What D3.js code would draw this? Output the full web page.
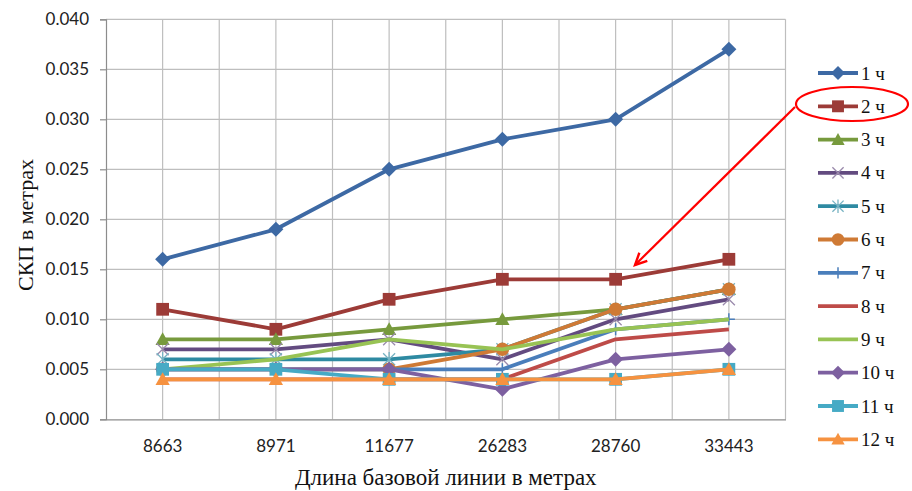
<!DOCTYPE html>
<html>
<head>
<meta charset="utf-8">
<script src="https://cdn.jsdelivr.net/npm/d3@7/dist/d3.min.js"></script>
<style>
  html, body { margin: 0; padding: 0; background: #fff; }
  svg { display: block; }
</style>
</head>
<body>
<svg id="chart" width="912" height="491"></svg>
<script>
// Baseline lengths (categories on the x axis)
const baselines = ["8663", "8971", "11677", "26283", "28760", "33443"];

// RMS error (СКП) for each observation duration, metres
const s1  = [0.016, 0.019, 0.025, 0.028, 0.030, 0.037];
const s2  = [0.011, 0.009, 0.012, 0.014, 0.014, 0.016];
const s3  = [0.008, 0.008, 0.009, 0.010, 0.011, 0.013];
const s4  = [0.007, 0.007, 0.008, 0.006, 0.010, 0.012];
const s5  = [0.006, 0.006, 0.006, 0.007, 0.011, 0.013];
const s6  = [0.005, 0.005, 0.005, 0.007, 0.011, 0.013];
const s7  = [0.005, 0.005, 0.005, 0.005, 0.009, 0.010];
const s8  = [0.004, 0.004, 0.004, 0.004, 0.008, 0.009];
const s9  = [0.005, 0.006, 0.008, 0.007, 0.009, 0.010];
const s10 = [0.005, 0.005, 0.005, 0.003, 0.006, 0.007];
const s11 = [0.005, 0.005, 0.004, 0.004, 0.004, 0.005];
const s12 = [0.004, 0.004, 0.004, 0.004, 0.004, 0.005];

const seriesNames = ["1 ч", "2 ч", "3 ч", "4 ч", "5 ч", "6 ч", "7 ч", "8 ч", "9 ч", "10 ч", "11 ч", "12 ч"];
const seriesValues = [s1, s2, s3, s4, s5, s6, s7, s8, s9, s10, s11, s12];
const seriesColors = ["#3D69A4", "#9C3B37", "#779A3D", "#634B80", "#2E8AA2", "#CF7A35",
                      "#4A7EBB", "#BE4B48", "#98C354", "#7D60A0", "#46AAC5", "#F69240"];
const seriesMarkers = ["diamond", "square", "triangle", "cross", "asterisk", "circle",
                       "plus", "none", "none", "diamond", "square", "triangle"];

const yTicks = [0, 0.005, 0.010, 0.015, 0.020, 0.025, 0.030, 0.035, 0.040];

const plot = { left: 106, right: 785.5, top: 19.3, bottom: 419.3 };

const svg = d3.select("#chart");

const x = d3.scaleBand().domain(baselines).range([plot.left, plot.right]).paddingInner(0).paddingOuter(0);
const y = d3.scaleLinear().domain([0, 0.040]).range([plot.bottom, plot.top]);
const cx = d => x(d) + x.bandwidth() / 2;

// Grid: horizontal lines at each tick, vertical lines at band edges and centres
const grid = svg.append("g");
grid.selectAll("line.h").data(yTicks.slice(1)).join("line")
  .attr("x1", plot.left).attr("x2", plot.right)
  .attr("y1", d => y(d)).attr("y2", d => y(d))
  .attr("stroke", "#BEBEBE").attr("stroke-width", 1.2);
const vLines = [];
baselines.forEach((b, i) => {
  vLines.push(cx(b));
  if (i > 0) vLines.push(x(b));
});
vLines.push(plot.right);
grid.selectAll("line.v").data(vLines).join("line")
  .attr("x1", d => d).attr("x2", d => d)
  .attr("y1", plot.top).attr("y2", plot.bottom)
  .attr("stroke", "#BEBEBE").attr("stroke-width", 1.2);

// Y axis
const yAxis = svg.append("g")
  .attr("transform", `translate(${plot.left},0)`)
  .call(d3.axisLeft(y).tickValues(yTicks).tickFormat(d3.format(".3f")).tickSizeOuter(0).tickSize(6).tickPadding(11));
yAxis.select(".domain").attr("stroke", "#8C8C8C").attr("stroke-width", 1.2);
yAxis.selectAll(".tick line").attr("stroke", "#8C8C8C").attr("stroke-width", 1.2);
yAxis.selectAll(".tick text")
  .attr("font-family", "Lato, 'Open Sans', sans-serif").attr("font-size", 17).attr("fill", "#222");

// X axis
const xAxis = svg.append("g")
  .attr("transform", `translate(0,${plot.bottom})`)
  .call(d3.axisBottom(x).tickSize(0).tickPadding(21));
xAxis.select(".domain").attr("stroke", "#8C8C8C").attr("stroke-width", 1.2);
xAxis.selectAll(".tick text")
  .attr("font-family", "Lato, 'Open Sans', sans-serif").attr("font-size", 17).attr("fill", "#222");

// Axis titles
svg.append("text")
  .attr("x", (plot.left + plot.right) / 2).attr("y", 485)
  .attr("text-anchor", "middle")
  .attr("font-family", "'Liberation Serif', 'Times New Roman', serif").attr("font-size", 23)
  .attr("fill", "#111")
  .text("Длина базовой линии в метрах");
svg.append("text")
  .attr("transform", "translate(33,225) rotate(-90)")
  .attr("text-anchor", "middle")
  .attr("font-family", "'Liberation Serif', 'Times New Roman', serif").attr("font-size", 22)
  .attr("fill", "#111")
  .text("СКП в метрах");

// Marker drawing helper
function lighten(c, k) { return d3.interpolateRgb(c, "#ffffff")(k); }
function drawMarker(g, type, color, px, py, s) {
  if (type === "none") return;
  if (type === "diamond") {
    g.append("path").attr("d", `M${px},${py - s}L${px + s},${py}L${px},${py + s}L${px - s},${py}Z`)
      .attr("fill", color);
  } else if (type === "square") {
    const h = s * 0.85;
    g.append("rect").attr("x", px - h).attr("y", py - h).attr("width", 2 * h).attr("height", 2 * h)
      .attr("fill", color);
  } else if (type === "triangle") {
    const h = s * 0.95;
    g.append("path").attr("d", `M${px},${py - h}L${px + h},${py + h * 0.8}L${px - h},${py + h * 0.8}Z`)
      .attr("fill", color);
  } else if (type === "circle") {
    g.append("circle").attr("cx", px).attr("cy", py).attr("r", s * 0.9).attr("fill", color);
  } else if (type === "cross") {
    const h = s * 0.8;
    g.append("path").attr("d", `M${px - h},${py - h}L${px + h},${py + h}M${px - h},${py + h}L${px + h},${py - h}`)
      .attr("stroke", lighten(color, 0.35)).attr("stroke-width", 1.3).attr("fill", "none");
  } else if (type === "asterisk") {
    const h = s * 0.8;
    g.append("path").attr("d", `M${px - h},${py - h}L${px + h},${py + h}M${px - h},${py + h}L${px + h},${py - h}M${px},${py - h * 1.2}L${px},${py + h * 1.2}`)
      .attr("stroke", lighten(color, 0.35)).attr("stroke-width", 1.3).attr("fill", "none");
  } else if (type === "plus") {
    const h = s * 0.8;
    g.append("path").attr("d", `M${px - h},${py}L${px + h},${py}M${px},${py - h}L${px},${py + h}`)
      .attr("stroke", color).attr("stroke-width", 1.5).attr("fill", "none");
  }
}

// Series lines with markers
const line = d3.line().x((d, i) => cx(baselines[i])).y(d => y(d));
seriesValues.forEach((vals, si) => {
  const g = svg.append("g");
  g.append("path").datum(vals).attr("d", line)
    .attr("fill", "none").attr("stroke", seriesColors[si]).attr("stroke-width", 3.8)
    .attr("stroke-linejoin", "round");
  vals.forEach((v, i) => drawMarker(g, seriesMarkers[si], seriesColors[si], cx(baselines[i]), y(v), 7.5));
});

// Legend
const legend = svg.append("g");
seriesNames.forEach((name, i) => {
  const ly = 73 + i * 33.3;
  const g = legend.append("g");
  g.append("line").attr("x1", 818).attr("x2", 858).attr("y1", ly).attr("y2", ly)
    .attr("stroke", seriesColors[i]).attr("stroke-width", 3.8);
  drawMarker(g, seriesMarkers[i], seriesColors[i], 838, ly, 7);
  g.append("text").attr("x", 861).attr("y", ly + 6.5)
    .attr("font-family", "'Liberation Serif', 'Times New Roman', serif").attr("font-size", 19)
    .attr("fill", "#111").text(name);
});

// Highlight around "2 ч" with a pointer to its line
svg.append("ellipse").attr("cx", 852).attr("cy", 104).attr("rx", 56).attr("ry", 17)
  .attr("fill", "none").attr("stroke", "#FF0000").attr("stroke-width", 2.2);
const ax1 = 795, ay1 = 107, ax2 = 635, ay2 = 265;
svg.append("line").attr("x1", ax1).attr("y1", ay1).attr("x2", ax2).attr("y2", ay2)
  .attr("stroke", "#FF0000").attr("stroke-width", 2.2);
const ang = Math.atan2(ay1 - ay2, ax1 - ax2);
const hl = 13, spread = 0.45;
svg.append("path")
  .attr("d", `M${ax2 + hl * Math.cos(ang + spread)},${ay2 + hl * Math.sin(ang + spread)}L${ax2},${ay2}L${ax2 + hl * Math.cos(ang - spread)},${ay2 + hl * Math.sin(ang - spread)}`)
  .attr("fill", "none").attr("stroke", "#FF0000").attr("stroke-width", 2.4).attr("stroke-linejoin", "miter");
</script>
</body>
</html>
